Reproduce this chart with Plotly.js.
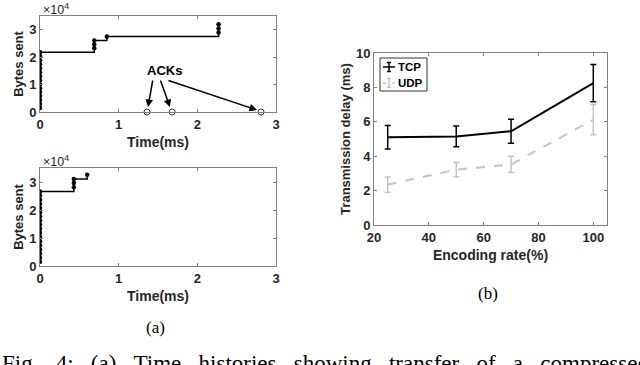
<!DOCTYPE html>
<html>
<head>
<meta charset="utf-8">
<script src="https://cdn.plot.ly/plotly-3.0.1.min.js"></script>
<style>
  html, body { margin: 0; padding: 0; background: #fff; }
  #chart { width: 640px; height: 365px; }
</style>
</head>
<body>
<div id="chart"></div>
<script>
(function() {
  "use strict";

  // (a) top: packets sent (time ms, bytes)
  var sentTopTime = [0, 0, 0, 0, 0, 0, 0, 0, 0, 0, 0, 0, 0, 0, 0,
    0.69, 0.69, 0.69, 0.85, 2.27, 2.27, 2.27];
  var sentTopBytes = [1450, 2900, 4350, 5800, 7250, 8700, 10150, 11600, 13050, 14500,
    15950, 17400, 18850, 20300, 21800, 23200, 24650, 26100, 27550, 29000, 30450, 32000];
  var ackTime = [1.36, 1.68, 2.81];
  var ackBytes = [0, 0, 0];

  // (a) bottom
  var sentBotTime = [0, 0, 0, 0, 0, 0, 0, 0, 0, 0, 0, 0, 0, 0, 0, 0, 0, 0,
    0.43, 0.43, 0.43, 0.60];
  var sentBotBytes = [1480, 2960, 4440, 5920, 7400, 8880, 10360, 11840, 13320, 14800,
    16280, 17760, 19240, 20720, 22200, 23680, 25160, 26600, 28100, 29600, 31100, 32600];

  // (b) transmission delay
  var rate = [25, 50, 70, 100];
  var tcpDelay = [5.1, 5.15, 5.45, 8.25];
  var tcpErr = [0.68, 0.6, 0.7, 1.08];
  var udpDelay = [2.35, 3.22, 3.52, 6.12];
  var udpErr = [0.44, 0.41, 0.47, 0.88];

  var tcpColor = "#000";
  var udpColor = "#c4c4c4";

  function px(x) { return x / 640; }
  function py(y) { return 1 - y / 365; }

  var sans = "Liberation Sans, Arial";
  var serif = "Liberation Serif, Times New Roman";

  function axis(domain, range, dtick, title, anchor, isX) {
    return {
      domain: domain,
      range: range,
      dtick: dtick,
      tick0: 0,
      anchor: anchor,
      showgrid: false,
      zeroline: false,
      showline: true,
      mirror: "ticks",
      linecolor: "#808080",
      linewidth: 1,
      ticks: "inside",
      ticklen: 3,
      tickcolor: "#808080",
      tickfont: {family: sans, size: 13, color: "#262626", weight: "bold"},
      title: {
        text: title,
        font: {family: sans, size: isX ? 14 : 13, color: "#262626", weight: "bold"},
        standoff: isX ? 6 : 2
      }
    };
  }

  var markerDot = {color: "#000", size: 4.5, symbol: "circle"};

  var data = [
    {
      x: sentTopTime, y: sentTopBytes, xaxis: "x", yaxis: "y",
      mode: "lines+markers", line: {color: "#000", width: 1.5, shape: "hv"},
      marker: markerDot, showlegend: false
    },
    {
      x: ackTime, y: ackBytes, xaxis: "x", yaxis: "y",
      mode: "markers", cliponaxis: false,
      marker: {color: "rgba(0,0,0,0)", size: 6, line: {color: "#333", width: 1}},
      showlegend: false
    },
    {
      x: sentBotTime, y: sentBotBytes, xaxis: "x2", yaxis: "y2",
      mode: "lines+markers", line: {color: "#000", width: 1.5, shape: "hv"},
      marker: markerDot, showlegend: false
    },
    {
      x: rate, y: tcpDelay, xaxis: "x3", yaxis: "y3", name: "TCP",
      mode: "lines", line: {color: tcpColor, width: 2}, showlegend: false,
      error_y: {type: "data", array: tcpErr, color: tcpColor, thickness: 1.5, width: 3}
    },
    {
      x: rate, y: udpDelay, xaxis: "x3", yaxis: "y3", name: "UDP",
      mode: "lines", line: {color: udpColor, width: 2, dash: "dash"}, showlegend: false,
      error_y: {type: "data", array: udpErr, color: udpColor, thickness: 1.5, width: 3}
    }
  ];

  var arrowStyle = {
    xref: "x", yref: "y", axref: "x", ayref: "y",
    showarrow: true, arrowhead: 2, arrowsize: 1, arrowwidth: 1.5, arrowcolor: "#000", text: ""
  };

  function label(x, y, text, font, xanchor) {
    return {xref: "paper", yref: "paper", x: px(x), y: py(y), text: text, showarrow: false,
      xanchor: xanchor || "center", yanchor: "middle", font: font};
  }

  var expFont = {family: sans, size: 12.5, color: "#262626"};
  var legendFont = {family: sans, size: 11.5, color: "#000", weight: "bold"};
  var gap = "\u00a0\u00a0\u00a0";
  var caption = ["Fig.", "4:", "(a)", "Time", "histories", "showing", "transfer", "of", "a", "compressed"].join(gap);

  var annotations = [
    label(164.5, 70, "ACKs", {family: sans, size: 13, color: "#000", weight: "bold"}),
    Object.assign({}, arrowStyle, {x: 1.373, y: 1820, ax: 1.436, ay: 12030}),
    Object.assign({}, arrowStyle, {x: 1.652, y: 1820, ax: 1.525, ay: 12030}),
    Object.assign({}, arrowStyle, {x: 2.758, y: 730, ax: 1.614, ay: 11670}),
    label(41, 9, "×10<sup>4</sup>", expFont, "left"),
    label(41, 161, "×10<sup>4</sup>", expFont, "left"),
    label(155, 327, "(a)", {family: serif, size: 17, color: "#000"}),
    label(488, 293, "(b)", {family: serif, size: 17, color: "#000"}),
    {xref: "paper", yref: "paper", x: px(0), y: py(349), xanchor: "left", yanchor: "top",
      text: caption, showarrow: false, font: {family: serif, size: 23, color: "#000"}},
    label(396, 67, "TCP", legendFont, "left"),
    label(396, 83, "UDP", legendFont, "left")
  ];

  // legend box drawn by hand (Plotly's own legend is much wider than MATLAB's)
  function seg(x0, y0, x1, y1, color, dash) {
    return {type: "line", xref: "paper", yref: "paper",
      x0: px(x0), y0: py(y0), x1: px(x1), y1: py(y1),
      line: {color: color, width: 1.5, dash: dash || "solid"}};
  }
  var shapes = [
    {type: "rect", xref: "paper", yref: "paper", x0: px(380), x1: px(427), y0: py(91), y1: py(58),
      fillcolor: "#fff", line: {color: "#333", width: 1}},
    seg(383, 67, 395, 67, tcpColor),
    seg(389, 62.5, 389, 71.5, tcpColor),
    seg(387, 62.5, 391, 62.5, tcpColor),
    seg(387, 71.5, 391, 71.5, tcpColor),
    seg(383, 83, 386, 83, udpColor),
    seg(392, 83, 395, 83, udpColor),
    seg(389, 78.5, 389, 87.5, udpColor),
    seg(387, 78.5, 391, 78.5, udpColor),
    seg(387, 87.5, 391, 87.5, udpColor)
  ];

  var layout = {
    width: 640,
    height: 365,
    margin: {l: 0, r: 0, t: 0, b: 0},
    paper_bgcolor: "#fff",
    plot_bgcolor: "#fff",
    showlegend: false,
    xaxis: axis([px(40), px(276)], [0, 3], 1, "Time(ms)", "y", true),
    yaxis: axis([py(112), py(16)], [0, 35000], 10000, "Bytes sent", "x", false),
    xaxis2: axis([px(40), px(276)], [0, 3], 1, "Time(ms)", "y2", true),
    yaxis2: axis([py(266), py(168)], [0, 35000], 10000, "Bytes sent", "x2", false),
    xaxis3: axis([px(374), px(607)], [20, 105], 20, "Encoding rate(%)", "y3", true),
    yaxis3: axis([py(225), py(53)], [0, 10], 2, "Transmission delay (ms)", "x3", false),
    annotations: annotations,
    shapes: shapes
  };

  layout.yaxis.tickvals = [0, 10000, 20000, 30000];
  layout.yaxis.ticktext = ["0", "1", "2", "3"];
  layout.yaxis2.tickvals = [0, 10000, 20000, 30000];
  layout.yaxis2.ticktext = ["0", "1", "2", "3"];

  Plotly.newPlot("chart", data, layout, {displayModeBar: false, staticPlot: true});
})();
</script>
</body>
</html>
